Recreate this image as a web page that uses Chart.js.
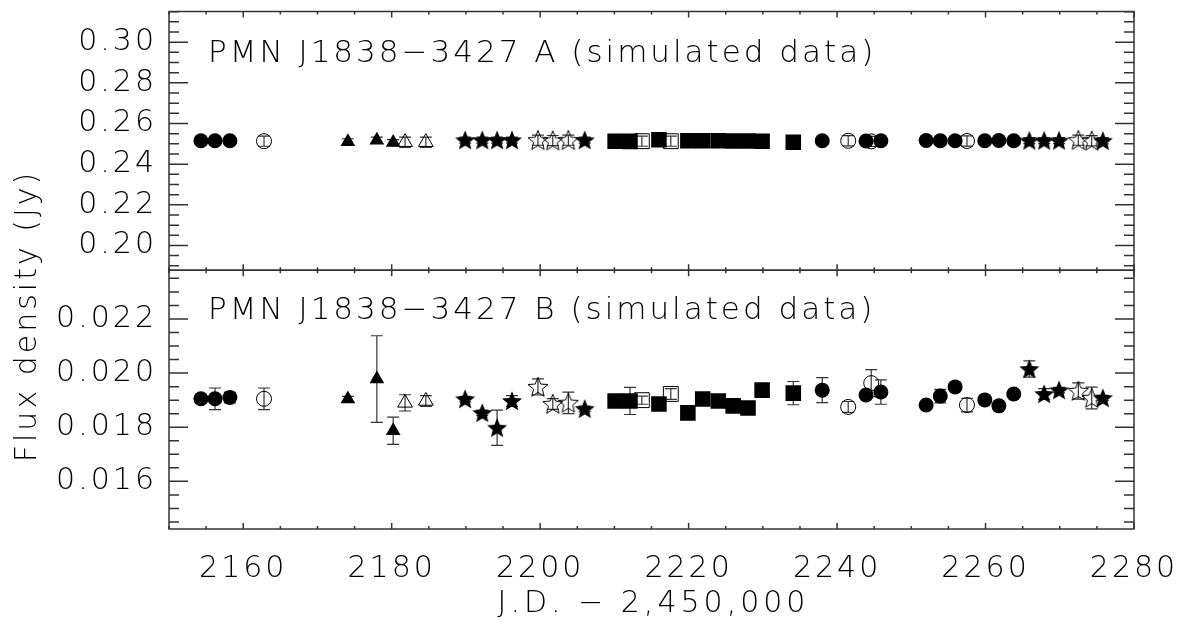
<!DOCTYPE html>
<html>
<head>
<meta charset="utf-8">
<script src="https://cdn.jsdelivr.net/npm/chart.js@4.4.1/dist/chart.umd.min.js"></script>
<style>
  html, body { margin: 0; padding: 0; background: #fff; }
  #wrap { width: 1183px; height: 628px; }
</style>
</head>
<body>
<div id="wrap"><canvas id="lc" width="1183" height="628"></canvas></div>
<script>
// JD - 2,450,000 for each symbol group, flux (Jy) of component A and B, and 1-sigma errors
const jdCircle     = [2154.3, 2156.2, 2158.2, 2238.0, 2243.9, 2245.9, 2252.0, 2253.9, 2255.9, 2259.9, 2261.8, 2263.8];
const aCircle      = [0.2515, 0.2515, 0.2515, 0.2515, 0.2514, 0.2515, 0.2516, 0.2515, 0.2515, 0.2515, 0.2516, 0.2515];
const bCircle      = [0.01905, 0.01905, 0.01910, 0.01937, 0.01919, 0.01930, 0.01882, 0.01915, 0.01949, 0.01901, 0.01879, 0.01923];
const bCircleErr   = [0.00015, 0.0004, 0.0002, 0.00046, 0.0001, 0.00045, 0.0001, 0.00025, 0.0001, 0.0001, 0.0001, 0.0001];

const jdCircleO    = [2162.8, 2241.5, 2244.6, 2257.5];
const aCircleO     = [0.2513, 0.2515, 0.2512, 0.2514];
const bCircleO     = [0.01905, 0.01875, 0.01963, 0.01882];
const bCircleOErr  = [0.0004, 0.0002, 0.0005, 0.00025];

const jdTri        = [2174.1, 2178.0, 2180.2];
const aTri         = [0.2510, 0.2518, 0.2506];
const bTri         = [0.01904, 0.01978, 0.01787];
const bTriErr      = [0.0001, 0.0016, 0.0005];

const jdTriO       = [2181.8, 2184.6];
const aTriO        = [0.2508, 0.2508];
const bTriO        = [0.01890, 0.01897];
const bTriOErr     = [0.0003, 0.0002];

const jdStar       = [2189.9, 2192.2, 2194.2, 2196.2, 2206.0, 2265.9, 2267.9, 2269.9, 2275.8];
const aStar        = [0.2518, 0.2518, 0.2518, 0.2518, 0.2518, 0.2516, 0.2516, 0.2516, 0.2515];
const bStar        = [0.01904, 0.01853, 0.01798, 0.01897, 0.01868, 0.02015, 0.01923, 0.01937, 0.01908];
const bStarErr     = [0.0001, 0.0001, 0.00065, 0.0002, 0.0001, 0.0003, 0.0002, 0.0001, 0.0001];

const jdStarO      = [2199.7, 2201.7, 2203.8, 2272.5, 2274.3];
const aStarO       = [0.2518, 0.2516, 0.2518, 0.2518, 0.2515];
const bStarO       = [0.01949, 0.01886, 0.01890, 0.01934, 0.01908];
const bStarOErr    = [0.0003, 0.0002, 0.0004, 0.0003, 0.0004];

const jdSquare     = [2210.1, 2212.1, 2216.0, 2219.9, 2221.9, 2224.0, 2226.0, 2228.0, 2229.9, 2234.1];
const aSquare      = [0.2513, 0.2512, 0.2520, 0.2515, 0.2515, 0.2515, 0.2514, 0.2514, 0.2513, 0.2508];
const bSquare      = [0.01897, 0.01897, 0.01886, 0.01853, 0.01904, 0.01897, 0.01879, 0.01871, 0.01937, 0.01926];
const bSquareErr   = [0.0001, 0.0005, 0.0001, 0.0001, 0.0001, 0.0001, 0.0001, 0.0001, 0.0001, 0.00043];

const jdSquareO    = [2213.7, 2217.6];
const aSquareO     = [0.2513, 0.2513];
const bSquareO     = [0.01900, 0.01923];
const bSquareOErr  = [0.00015, 0.0002];

const aErrFilled = 0.0015, aErrOpen = 0.0025;

const titleA = 'PMN J1838\u22123427 A (simulated data)';
const titleB = 'PMN J1838\u22123427 B (simulated data)';
const xTitle = 'J.D. \u2212 2,450,000';
const yTitle = 'Flux density (Jy)';

const FONT = "'DejaVu Sans', sans-serif";
const INK = '#333';
const CLEAR = 'rgba(0,0,0,0)';

function starImg(filled) {
    const c = document.createElement('canvas');
    c.width = c.height = 24;
    const g = c.getContext('2d');
    g.beginPath();
    for (let i = 0; i < 10; i++) {
        const r = i % 2 ? 4.6 : 10.5;
        const a = -Math.PI / 2 + i * Math.PI / 5;
        g.lineTo(12 + r * Math.cos(a), 12.8 + r * Math.sin(a));
    }
    g.closePath();
    if (filled) { g.fillStyle = '#000'; g.fill(); }
    else { g.strokeStyle = '#000'; g.lineWidth = 1; g.stroke(); }
    return c;
}
const starFilled = starImg(true), starOpen = starImg(false);

const pts = (xs, ys) => xs.map((x, i) => ({ x, y: ys[i] }));

function ds(xs, ys, errs, axis, style, open, radius) {
    return {
        data: pts(xs, ys),
        err: errs,
        yAxisID: axis,
        showLine: false,
        pointStyle: style,
        pointRadius: radius,
        pointHoverRadius: radius,
        pointBackgroundColor: open ? CLEAR : '#000',
        pointBorderColor: '#000',
        pointBorderWidth: open ? 1 : 0
    };
}

const fill = (n, v) => Array(n).fill(v);

// filled datasets first so they end up on top of the open ones
const datasets = [
    ds(jdCircle, aCircle, fill(jdCircle.length, aErrFilled), 'yA', 'circle', false, 7.5),
    ds(jdTri, aTri, fill(jdTri.length, aErrFilled), 'yA', 'triangle', false, 8.5),
    ds(jdStar, aStar, fill(jdStar.length, aErrFilled), 'yA', starFilled, false, 10),
    ds(jdSquare, aSquare, fill(jdSquare.length, aErrFilled), 'yA', 'rect', false, 11),
    ds(jdCircle, bCircle, bCircleErr, 'yB', 'circle', false, 7.5),
    ds(jdTri, bTri, bTriErr, 'yB', 'triangle', false, 8.5),
    ds(jdStar, bStar, bStarErr, 'yB', starFilled, false, 10),
    ds(jdSquare, bSquare, bSquareErr, 'yB', 'rect', false, 11),
    ds(jdCircleO, aCircleO, fill(jdCircleO.length, aErrOpen), 'yA', 'circle', true, 7.5),
    ds(jdTriO, aTriO, fill(jdTriO.length, aErrOpen), 'yA', 'triangle', true, 8.5),
    ds(jdStarO, aStarO, fill(jdStarO.length, aErrOpen), 'yA', starOpen, true, 10),
    ds(jdSquareO, aSquareO, fill(jdSquareO.length, aErrOpen), 'yA', 'rect', true, 10.5),
    ds(jdCircleO, bCircleO, bCircleOErr, 'yB', 'circle', true, 7.5),
    ds(jdTriO, bTriO, bTriOErr, 'yB', 'triangle', true, 8.5),
    ds(jdStarO, bStarO, bStarOErr, 'yB', starOpen, true, 10),
    ds(jdSquareO, bSquareO, bSquareOErr, 'yB', 'rect', true, 10.5)
];

const spacing = {
    id: 'spacing',
    beforeUpdate(chart) { chart.ctx.letterSpacing = '3px'; },
    beforeDraw(chart) { chart.ctx.letterSpacing = '3px'; }
};

// error bars go under the symbols
const errorBars = {
    id: 'errorBars',
    beforeDatasetsDraw(chart) {
        const ctx = chart.ctx;
        ctx.save();
        ctx.strokeStyle = INK;
        ctx.lineWidth = 1.2;
        chart.data.datasets.forEach((d, di) => {
            const ys = chart.scales[d.yAxisID];
            chart.getDatasetMeta(di).data.forEach((p, i) => {
                const v = d.data[i].y, e = d.err[i];
                const y1 = ys.getPixelForValue(v - e), y2 = ys.getPixelForValue(v + e);
                ctx.beginPath();
                ctx.moveTo(p.x, y1); ctx.lineTo(p.x, y2);
                ctx.moveTo(p.x - 6, y1); ctx.lineTo(p.x + 6, y1);
                ctx.moveTo(p.x - 6, y2); ctx.lineTo(p.x + 6, y2);
                ctx.stroke();
            });
        });
        ctx.restore();
    }
};

const decor = {
    id: 'decor',
    afterDatasetsDraw(chart) {
        const ctx = chart.ctx, xs = chart.scales.x;
        ctx.save();

        // frames with inward ticks
        const L = xs.left, R = xs.right;
        ctx.strokeStyle = INK;
        ctx.lineWidth = 1.5;
        [['yA', 0.005, 0.02], ['yB', 0.0005, 0.002]].forEach(([id, minor, major]) => {
            const s = chart.scales[id];
            const T = s.top, B = s.bottom;
            ctx.strokeRect(L, T, R - L, B - T);
            ctx.beginPath();
            for (let v = xs.min; v <= xs.max + 1e-6; v += 5) {
                const px = xs.getPixelForValue(v);
                const len = Math.abs(v % 20) < 1e-6 ? 6 : 3;
                ctx.moveTo(px, B); ctx.lineTo(px, B - len);
                ctx.moveTo(px, T); ctx.lineTo(px, T + len);
            }
            for (let k = Math.ceil(s.min / minor - 1e-6); k * minor <= s.max + 1e-9; k++) {
                const v = k * minor;
                const py = s.getPixelForValue(v);
                const isMajor = Math.abs(v / major - Math.round(v / major)) < 1e-6;
                const len = isMajor ? 19 : 10;
                ctx.moveTo(L, py); ctx.lineTo(L + len, py);
                ctx.moveTo(R, py); ctx.lineTo(R - len, py);
            }
            ctx.stroke();
        });

        // panel titles and axis titles
        ctx.fillStyle = '#000';
        ctx.letterSpacing = '3px';
        ctx.font = 'normal 200 31px ' + FONT;
        ctx.textAlign = 'left';
        ctx.textBaseline = 'alphabetic';
        ctx.fillText(titleA, 208, chart.scales.yA.top + 50);
        ctx.fillText(titleB, 208, chart.scales.yB.top + 49);

        ctx.font = 'normal 200 30px ' + FONT;
        ctx.letterSpacing = '4px';
        ctx.textAlign = 'center';
        ctx.textBaseline = 'middle';
        ctx.fillText(xTitle, (L + R) / 2 + 2, 604);

        ctx.letterSpacing = '3px';
        ctx.translate(28, 316);
        ctx.rotate(-Math.PI / 2);
        ctx.fillText(yTitle, 0, 0);
        ctx.restore();
    }
};

const tickFont = { family: FONT, size: 30, weight: '200' };

const noPad = s => { s.paddingTop = 0; s.paddingBottom = 0; s.paddingLeft = 0; s.paddingRight = 0; };

new Chart(document.getElementById('lc'), {
    type: 'scatter',
    data: { datasets },
    plugins: [spacing, errorBars, decor],
    options: {
        responsive: false,
        animation: false,
        events: [],
        layout: { padding: { top: 7, right: 49, left: 0, bottom: 0 } },
        plugins: { legend: { display: false }, tooltip: { enabled: false } },
        scales: {
            x: {
                type: 'linear', position: 'bottom', min: 2150, max: 2280,
                grid: { display: false, drawTicks: false },
                border: { display: false },
                ticks: {
                    stepSize: 20, includeBounds: false, padding: 22, color: '#000', font: tickFont,
                    maxRotation: 0, autoSkip: false,
                    callback: v => String(v)
                },
                afterFit: s => { s.height = 99; noPad(s); }
            },
            yB: {
                type: 'linear', position: 'left', stack: 'panels', stackWeight: 1,
                min: 0.01424, max: 0.0238,
                grid: { display: false, drawTicks: false },
                border: { display: false },
                ticks: { stepSize: 0.002, includeBounds: false, padding: 12, color: '#000', font: tickFont,
                         autoSkip: false, callback: v => v.toFixed(3) },
                afterFit: s => { s.width = 169; noPad(s); }
            },
            yA: {
                type: 'linear', position: 'left', stack: 'panels', stackWeight: 1,
                min: 0.1878, max: 0.3151,
                grid: { display: false, drawTicks: false },
                border: { display: false },
                ticks: { stepSize: 0.02, includeBounds: false, padding: 12, color: '#000', font: tickFont,
                         autoSkip: false, callback: v => v.toFixed(2) },
                afterFit: s => { s.width = 169; noPad(s); }
            }
        }
    }
});
</script>
</body>
</html>
